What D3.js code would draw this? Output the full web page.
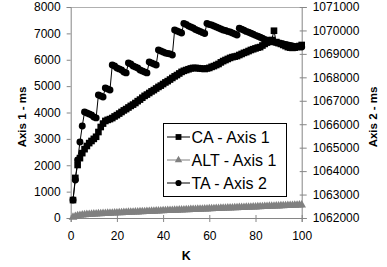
<!DOCTYPE html>
<html>
<head>
<meta charset="utf-8">
<script src="https://cdn.jsdelivr.net/npm/d3@7"></script>
<style>
  html, body { margin: 0; padding: 0; background: #fff; }
  svg { display: block; font-family: "Liberation Sans", Arial, sans-serif; }
</style>
</head>
<body>
<svg id="chart" width="387" height="267"></svg>
<script>
// ---- data ----
const kValues = d3.range(1, 101);
const caValues = [
  680,1520,2010,2270,2460,2610,2730,2840,2920,3000,
  3080,3260,3450,3580,3680,3720,3750,3790,3850,3900,
  3960,4020,4080,4130,4190,4250,4300,4360,4430,4490,
  4560,4630,4680,4740,4800,4850,4910,4970,5020,5080,
  5140,5190,5250,5310,5370,5420,5480,5540,5580,5610,
  5640,5670,5690,5690,5680,5670,5660,5650,5670,5690,
  5730,5760,5800,5840,5900,5950,5990,6030,6070,6100,
  6120,6140,6180,6220,6260,6290,6330,6370,6400,6430,
  6460,6480,6540,6600,6650,6710,6750,7100,6670,6630,
  6600,6560,6520,6480,6460,6450,6460,6480,6520,6560
];
const altValues = [
  30,60,82,100,112,122,130,137,144,150,
  155,160,164,169,173,177,182,186,191,195,
  199,203,207,211,215,219,223,227,231,235,
  239,243,247,251,255,259,263,267,271,275,
  279,282,286,290,294,297,301,305,308,312,
  316,319,323,326,330,334,337,341,344,348,
  352,355,359,363,367,370,374,378,381,385,
  388,392,395,399,402,406,409,413,416,420,
  424,428,431,435,439,443,446,450,454,458,
  462,466,469,473,477,480,484,488,491,495
];
const taValues = [
  1062770,1063620,1064470,1065240,1065920,1066520,1066480,1066440,1066390,1066310,
  1066270,1067250,1067200,1067160,1067550,1067500,1067460,1068530,1068480,1068400,
  1068360,1068310,1068230,1068190,1068610,1068570,1068480,1068440,1068400,1068310,
  1068270,1068230,1068190,1068650,1068610,1068570,1068530,1069170,1069120,1069080,
  1069040,1069020,1069000,1068950,1070020,1069980,1069930,1069890,1070300,1070250,
  1070190,1070150,1070100,1070040,1070000,1069960,1069910,1069870,1070300,1070250,
  1070230,1070190,1070150,1070100,1070060,1070020,1070000,1069960,1069930,1069890,
  1069850,1069810,1070090,1070050,1070010,1069960,1069920,1069880,1069840,1069790,
  1069750,1069710,1069670,1069620,1069580,1069540,1069520,1069510,1069490,1069470,
  1069440,1069420,1069400,1069380,1069360,1069340,1069320,1069310,1069300,1069290
];
const xTicks = [0, 20, 40, 60, 80, 100];
const y1Ticks = [0, 1000, 2000, 3000, 4000, 5000, 6000, 7000, 8000];
const y2Ticks = [1062000, 1063000, 1064000, 1065000, 1066000, 1067000, 1068000, 1069000, 1070000, 1071000];
const seriesNames = ["CA - Axis 1", "ALT - Axis 1", "TA - Axis 2"];

// ---- layout ----
const svg = d3.select("#chart");
const mLeft = 70.7, mRight = 301.7, mTop = 7, mBottom = 218;
const x = d3.scaleLinear().domain([0, 100]).range([mLeft, mRight]);
const y1 = d3.scaleLinear().domain([0, 8000]).range([mBottom, mTop]);
const y2 = d3.scaleLinear().domain([1062000, 1071000]).range([mBottom, mTop]);
const axisGray = "#868686";

// plot border top
svg.append("line").attr("x1", mLeft).attr("x2", mRight).attr("y1", mTop + 0.5).attr("y2", mTop + 0.5)
  .attr("stroke", "#b0b0b0").attr("stroke-width", 1);

// left axis
const gL = svg.append("g").attr("transform", `translate(${mLeft},0)`)
  .call(d3.axisLeft(y1).tickValues(y1Ticks).tickSize(4).tickPadding(6).tickFormat(d3.format("d")));
// right axis
const gR = svg.append("g").attr("transform", `translate(${mRight},0)`)
  .call(d3.axisRight(y2).tickValues(y2Ticks).tickSize(5).tickPadding(6).tickFormat(d3.format("d")));
// bottom axis
const gB = svg.append("g").attr("transform", `translate(0,${mBottom})`)
  .call(d3.axisBottom(x).tickValues(xTicks).tickSize(4).tickPadding(9).tickFormat(d3.format("d")));

[gL, gR, gB].forEach(g => {
  g.select(".domain").attr("stroke", axisGray);
  g.selectAll(".tick line").attr("stroke", axisGray);
  g.selectAll(".tick text").attr("fill", "#000").attr("font-size", 12)
    .attr("font-family", "'Liberation Sans', Arial, sans-serif");
});
gB.selectAll(".tick line").attr("y1", -3);
gR.selectAll(".tick line").attr("x1", -2);

// axis titles
svg.append("text").attr("transform", `translate(26,117) rotate(-90)`)
  .attr("text-anchor", "middle").attr("font-size", 11.5).attr("font-weight", "bold").text("Axis 1 - ms");
svg.append("text").attr("transform", `translate(377,117) rotate(-90)`)
  .attr("text-anchor", "middle").attr("font-size", 11.5).attr("font-weight", "bold").text("Axis 2 - ms");
svg.append("text").attr("x", (mLeft + mRight) / 2).attr("y", 260)
  .attr("text-anchor", "middle").attr("font-size", 12.5).attr("font-weight", "bold").text("K");

// ---- series ----
function drawSeries(values, yScale, color, symbolType, symSize) {
  const pts = kValues.map((k, i) => [k, values[i]]);
  svg.append("path").datum(pts)
    .attr("fill", "none").attr("stroke", color).attr("stroke-width", 1)
    .attr("d", d3.line().x(d => x(d[0])).y(d => yScale(d[1])));
  svg.append("g").selectAll("path").data(pts).join("path")
    .attr("transform", d => `translate(${x(d[0])},${yScale(d[1])})`)
    .attr("d", d3.symbol().type(symbolType).size(symSize))
    .attr("fill", color);
}
drawSeries(caValues, y1, "#000", d3.symbolSquare, 44);
drawSeries(altValues, y1, "#808080", d3.symbolTriangle, 32);
drawSeries(taValues, y2, "#000", d3.symbolCircle, 38);

// ---- legend ----
const lg = svg.append("g");
lg.append("rect").attr("x", 163.5).attr("y", 123.5).attr("width", 123).attr("height", 73)
  .attr("fill", "#fff").attr("stroke", "#000").attr("stroke-width", 1);
const legendItems = [
  { name: seriesNames[0], color: "#000", sym: d3.symbolSquare, size: 34, cy: 137 },
  { name: seriesNames[1], color: "#808080", sym: d3.symbolTriangle, size: 24, cy: 160 },
  { name: seriesNames[2], color: "#000", sym: d3.symbolCircle, size: 30, cy: 183 }
];
legendItems.forEach(it => {
  lg.append("line").attr("x1", 167).attr("x2", 190).attr("y1", it.cy).attr("y2", it.cy)
    .attr("stroke", it.color).attr("stroke-width", 1);
  lg.append("path").attr("transform", `translate(178.5,${it.cy})`)
    .attr("d", d3.symbol().type(it.sym).size(it.size)).attr("fill", it.color);
  lg.append("text").attr("x", 191.5).attr("y", it.cy + 5.8).attr("font-size", 16)
    .attr("fill", "#000").text(it.name);
});
</script>
</body>
</html>
